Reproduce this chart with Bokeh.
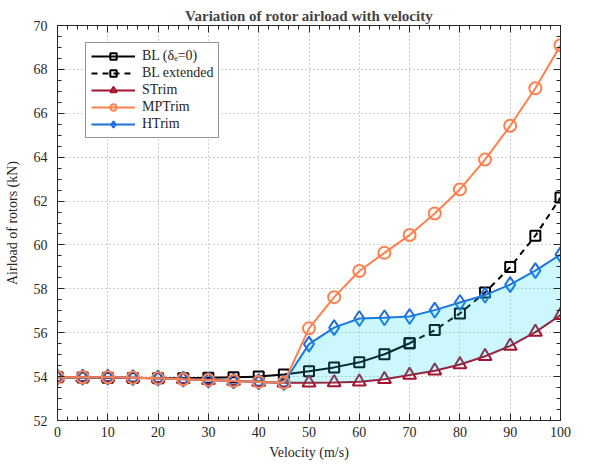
from bokeh.plotting import figure
from bokeh.models import (Range1d, LinearAxis, SingleIntervalTicker, Legend, LegendItem,
                          CustomJSTickFormatter)
from bokeh.embed import file_html
from bokeh.resources import INLINE

# ---- data ----
velocity = [0, 5, 10, 15, 20, 25, 30, 35, 40, 45, 50, 55, 60, 65, 70, 75, 80, 85, 90, 95, 100]
bl_vel = [0, 5, 10, 15, 20, 25, 30, 35, 40, 45, 50, 55, 60, 65, 70]
bl = [53.97, 53.96, 53.95, 53.94, 53.93, 53.93, 53.95, 53.97, 54.0, 54.1,
      54.24, 54.42, 54.65, 55.02, 55.52]
blext_vel = [70, 75, 80, 85, 90, 95, 100]
bl_ext = [55.52, 56.12, 56.88, 57.83, 58.99, 60.42, 62.16]
strim = [53.97, 53.97, 53.97, 53.95, 53.93, 53.88, 53.84, 53.8, 53.76, 53.72,
         53.72, 53.73, 53.77, 53.88, 54.07, 54.27, 54.55, 54.93, 55.4, 56.03, 56.8]
mptrim = [53.97, 53.97, 53.97, 53.95, 53.93, 53.88, 53.84, 53.8, 53.76, 53.72,
          56.2, 57.62, 58.81, 59.64, 60.45, 61.43, 62.53, 63.89, 65.43, 67.14, 69.1]
htrim = [53.97, 53.97, 53.97, 53.95, 53.93, 53.88, 53.84, 53.8, 53.76, 53.72,
         55.48, 56.23, 56.65, 56.68, 56.74, 57.03, 57.38, 57.71, 58.19, 58.83, 59.56]

FONT = "Liberation Serif"
AX = "#262626"
RED = "#A2142F"
ORANGE = "#FF7F4D"
BLUE = "#1F6FDC"

p = figure(width=574, height=462, output_backend="svg", toolbar_location=None,
           x_range=Range1d(0, 100), y_range=Range1d(52, 70),
           min_border_left=57, min_border_right=14, min_border_top=25, min_border_bottom=39)

p.title.text = "Variation of rotor airload with velocity"
p.title.text_font = FONT
p.title.text_font_size = "15px"
p.title.text_font_style = "bold"
p.title.align = "center"
p.title.standoff = 3
p.title.offset = 0

xt = SingleIntervalTicker(interval=10, num_minor_ticks=5)
yt = SingleIntervalTicker(interval=2, num_minor_ticks=4)

def style_axis(ax, labels=True, standoff=6):
    ax.major_tick_in = 7
    ax.major_tick_out = 0
    ax.minor_tick_in = 4
    ax.minor_tick_out = 0
    ax.axis_line_color = AX
    ax.major_tick_line_color = AX
    ax.minor_tick_line_color = AX
    ax.major_label_text_font = FONT
    ax.major_label_text_color = AX
    ax.major_label_text_font_size = "14px"
    ax.major_label_standoff = standoff if labels else 0
    if not labels:
        ax.formatter = CustomJSTickFormatter(code="return ''")

p.xaxis.ticker = xt
p.yaxis.ticker = yt
style_axis(p.xaxis[0], True, 6)
style_axis(p.yaxis[0], True, 10)
p.xaxis.axis_label = "Velocity (m/s)"
p.yaxis.axis_label = "Airload of rotors (kN)"
for ax in (p.xaxis[0], p.yaxis[0]):
    ax.axis_label_text_font = FONT
    ax.axis_label_text_font_style = "normal"
    ax.axis_label_text_font_size = "14px"
    ax.axis_label_text_color = AX
p.xaxis.axis_label_standoff = 5
p.yaxis.axis_label_standoff = 11

top = LinearAxis(ticker=SingleIntervalTicker(interval=10, num_minor_ticks=5))
right = LinearAxis(ticker=SingleIntervalTicker(interval=2, num_minor_ticks=4))
style_axis(top, False)
style_axis(right, False)
p.add_layout(top, "above")
p.add_layout(right, "right")

p.xgrid.ticker = xt
p.ygrid.ticker = yt
for g in (p.xgrid[0], p.ygrid[0]):
    g.grid_line_color = "#a0a0a0"
    g.grid_line_dash = "1 3"
    g.grid_line_width = 1

p.outline_line_color = AX
p.outline_line_width = 1
p.background_fill_color = "white"

LW = 2

# BL
r_bl_l = p.line(bl_vel, bl, line_color="black", line_width=LW)
r_bl_m = p.scatter(bl_vel, bl, marker="square", size=10, line_color="black",
                   line_width=2, fill_alpha=0)
# BL extended
r_ble_l = p.line(blext_vel, bl_ext, line_color="black", line_width=LW, line_dash="6 5")
r_ble_m = p.scatter(blext_vel, bl_ext, marker="square", size=10, line_color="black",
                    line_width=2, fill_alpha=0)
# STrim
r_s_l = p.line(velocity, strim, line_color=RED, line_width=LW)
r_s_m = p.scatter(velocity, strim, marker="triangle", size=13, line_color=RED,
                  line_width=2, fill_alpha=0)
# HTrim
r_h_l = p.line(velocity, htrim, line_color=BLUE, line_width=LW)
r_h_m = p.scatter(velocity, htrim, marker="diamond", size=15, line_color=BLUE,
                  line_width=2, fill_alpha=0)
# MPTrim
r_m_l = p.line(velocity, mptrim, line_color=ORANGE, line_width=LW)
r_m_m = p.scatter(velocity, mptrim, marker="circle", size=12, line_color=ORANGE,
                  line_width=2, fill_alpha=0)

# shaded band between STrim and HTrim (from 45 m/s)
i0 = velocity.index(45)
p.varea(x=velocity[i0:], y1=strim[i0:], y2=htrim[i0:], fill_color="#00D8F0", fill_alpha=0.2)

legend = Legend(items=[
    LegendItem(label="BL (\u03b4\u2091=0)", renderers=[r_bl_l, r_bl_m]),
    LegendItem(label="BL extended", renderers=[r_ble_l, r_ble_m]),
    LegendItem(label="STrim", renderers=[r_s_l, r_s_m]),
    LegendItem(label="MPTrim", renderers=[r_m_l, r_m_m]),
    LegendItem(label="HTrim", renderers=[r_h_l, r_h_m]),
], location=(28, 282))
legend.label_text_font = FONT
legend.label_text_font_size = "14px"
legend.label_text_color = AX
legend.border_line_color = AX
legend.border_line_width = 1
legend.background_fill_alpha = 1
legend.glyph_width = 44
legend.glyph_height = 16
legend.label_height = 16
legend.spacing = 1
legend.padding = 5
legend.margin = 0
legend.label_standoff = 7
p.add_layout(legend, "center")

open("out.html", "w").write(file_html(p, INLINE))
